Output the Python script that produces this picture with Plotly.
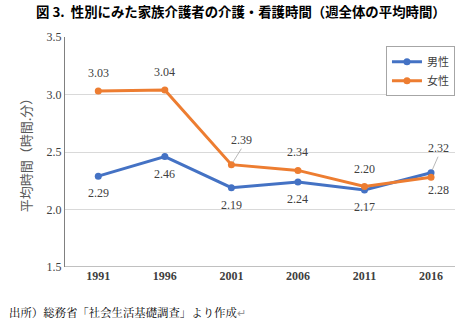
import plotly.graph_objects as go

years = ["1991", "1996", "2001", "2006", "2011", "2016"]
male = [2.29, 2.46, 2.19, 2.24, 2.17, 2.32]
female = [3.03, 3.04, 2.39, 2.34, 2.20, 2.28]
male_label = ["2.29", "2.46", "2.19", "2.24", "2.17", "2.32"]
female_label = ["3.03", "3.04", "2.39", "2.34", "2.20", "2.28"]
y_ticks = [1.5, 2.0, 2.5, 3.0, 3.5]
y_tick_text = ["1.5", "2.0", "2.5", "3.0", "3.5"]

BLUE = "#4472C4"
ORANGE = "#ED7D31"
SERIF = "Liberation Serif, Times New Roman, serif"
GOTHIC = "Noto Sans CJK JP, sans-serif"

fig = go.Figure()
fig.add_trace(go.Scatter(x=list(range(len(years))), y=male, name="男性", mode="lines+markers",
                         line=dict(color=BLUE, width=3), marker=dict(size=7, color=BLUE)))
fig.add_trace(go.Scatter(x=list(range(len(years))), y=female, name="女性", mode="lines+markers",
                         line=dict(color=ORANGE, width=3), marker=dict(size=7, color=ORANGE)))

annos = []
lab_font = dict(family=SERIF, size=12, color="#404040")
for i, (v, t) in enumerate(zip(male, male_label)):
    if i == 5:
        annos.append(dict(x=i, y=v, text=t, showarrow=True, ax=7, ay=-16, arrowhead=0,
                          arrowwidth=0.8, arrowcolor="#A6A6A6", standoff=3, font=lab_font,
                          xanchor="center", yanchor="bottom"))
    else:
        annos.append(dict(x=i, y=v, text=t, showarrow=False, yshift=-17, font=lab_font))
for i, (v, t) in enumerate(zip(female, female_label)):
    if i == 2:
        annos.append(dict(x=i, y=v, text=t, showarrow=True, ax=10, ay=-16, arrowhead=0,
                          arrowwidth=0.8, arrowcolor="#A6A6A6", standoff=3, font=lab_font,
                          xanchor="center", yanchor="bottom"))
    elif i == 5:
        annos.append(dict(x=i, y=v, text=t, showarrow=False, yshift=-13, xshift=7, font=lab_font))
    else:
        annos.append(dict(x=i, y=v, text=t, showarrow=False, yshift=18, font=lab_font))

annos.append(dict(xref="paper", yref="paper", x=0.45, y=1, yshift=26, xanchor="center",
                  yanchor="middle", showarrow=False,
                  text="<b>図 3.  性別にみた家族介護者の介護・看護時間（週全体の平均時間）</b>",
                  font=dict(family=GOTHIC, size=13.4, color="#000000")))
annos.append(dict(xref="paper", yref="paper", x=0, xshift=-58, y=0, yshift=-45, xanchor="left",
                  yanchor="middle", showarrow=False,
                  text="出所）総務省「社会生活基礎調査」より作成<span style='color:#999'>↵</span>",
                  font=dict(family="Noto Serif CJK JP, serif", size=11.4, color="#000000")))

fig.update_layout(
    width=455, height=324,
    margin=dict(l=65, r=0, t=37, b=57),
    paper_bgcolor="white", plot_bgcolor="white",
    showlegend=True,
    legend=dict(x=0.823, y=0.96, xanchor="left", yanchor="top",
                bordercolor="#A6A6A6", borderwidth=1, bgcolor="white",
                font=dict(family=GOTHIC, size=11, color="#404040"),
                itemwidth=30, tracegroupgap=0),
    annotations=annos,
    xaxis=dict(range=[-0.5, 5.36], tickmode="array", tickvals=list(range(len(years))),
               ticktext=["<b>%s</b>" % y for y in years], showgrid=False, zeroline=False,
               showline=False, ticks="", tickfont=dict(family=SERIF, size=12, color="#404040")),
    yaxis=dict(range=[1.5, 3.5], tickmode="array", tickvals=y_ticks, ticktext=y_tick_text,
               showgrid=True, gridcolor="#D9D9D9", gridwidth=1, zeroline=False,
               showline=True, linecolor="#808080", linewidth=1, ticks="",
               tickfont=dict(family=SERIF, size=12, color="#404040"),
               title=dict(text="平均時間（時間.分）", standoff=12,
                          font=dict(family=GOTHIC, size=13, color="#595959"))),
)
fig.add_shape(type="line", xref="paper", yref="y", x0=0, x1=1, y0=1.5, y1=1.5,
              line=dict(color="#808080", width=1))

fig.write_html("out.html")
